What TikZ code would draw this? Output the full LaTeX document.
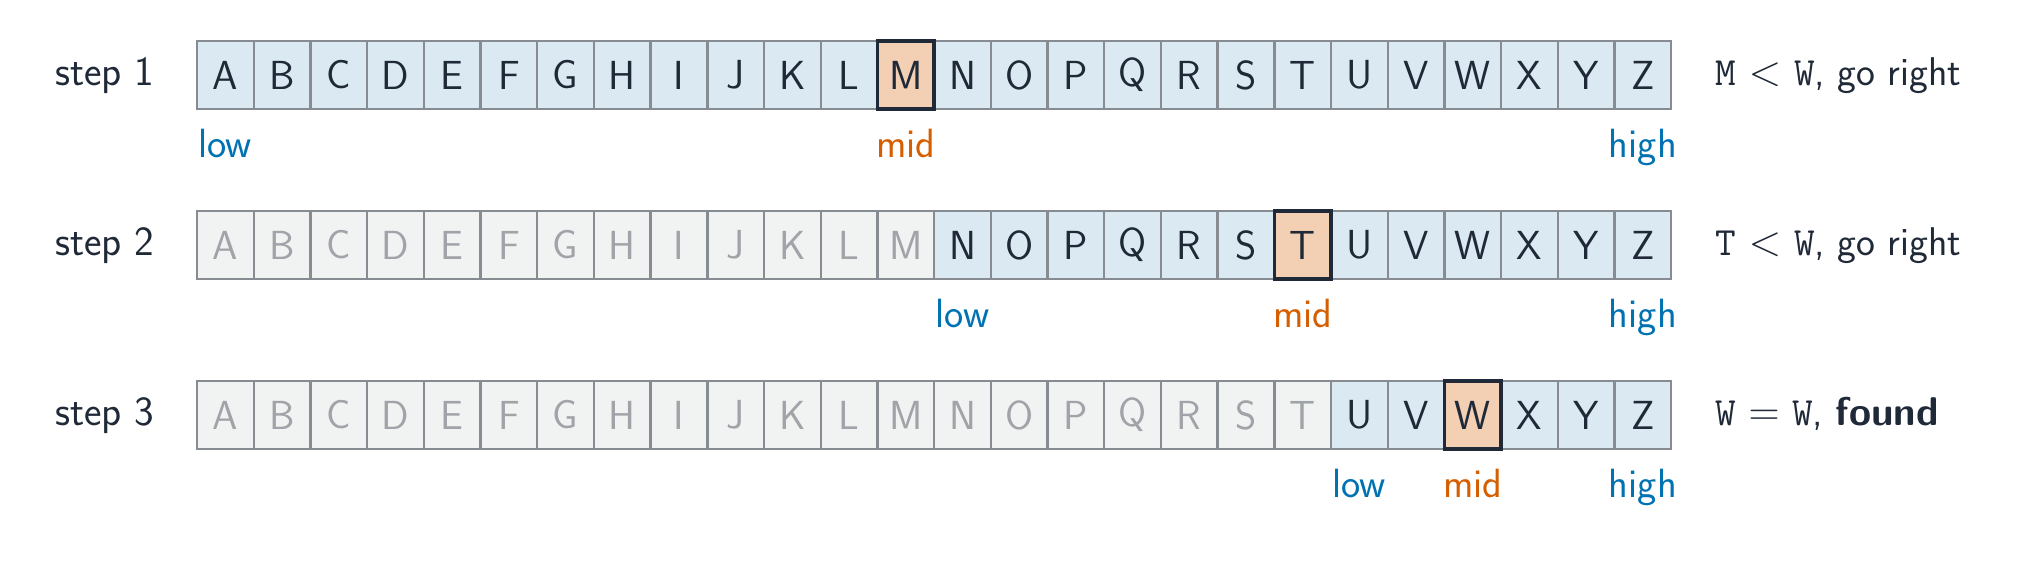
\documentclass[tikz,border=0pt]{standalone}
\usepackage{fontspec}
\definecolor{ink}{HTML}{1F2937}
\definecolor{cellfill}{HTML}{DBEAF2}
\definecolor{dimfill}{HTML}{F1F2F2}
\definecolor{dimtext}{HTML}{A0A4A8}
\definecolor{cellline}{HTML}{878C93}
\definecolor{midfill}{HTML}{F3D0B4}
\definecolor{lowblue}{HTML}{0072B2}
\definecolor{midorange}{HTML}{D55E00}
\tikzset{
  cellbox/.style={draw=cellline, line width=0.95pt, fill=cellfill, text=ink,
    minimum width=0.8cm, minimum height=0.96cm, inner sep=0pt,
    font=\sffamily\fontsize{16.3}{19}\selectfont},
  dimbox/.style={cellbox, fill=dimfill, text=dimtext},
  midbox/.style={cellbox, fill=midfill, draw=ink, line width=1.4pt},
  steplabel/.style={anchor=base east, text=ink, inner sep=0pt,
    font=\sffamily\fontsize{16.7}{19}\selectfont},
  ptrlabel/.style={anchor=base, inner sep=0pt,
    font=\sffamily\fontsize{16.4}{19}\selectfont},
  lowlab/.style={ptrlabel, text=lowblue},
  midlab/.style={ptrlabel, text=midorange},
  notelabel/.style={anchor=base west, text=ink, inner sep=0pt,
    font=\sffamily\fontsize{16.1}{19}\selectfont},
}
\begin{document}
\begin{tikzpicture}[x=0.0141111cm, y=-0.0141111cm]
\useasboundingbox (0,0) rectangle (2018,561);
% rows: y centres 75, 245, 415 ; first active index, mid index
\foreach \row/\yc/\lo/\mi in {1/75/0/12, 2/245/13/19, 3/415/20/22} {
  \node[steplabel] (step\row) at (155,\yc+10) {step \row};
  \foreach \L [count=\n from 0] in {A,B,C,D,E,F,G,H,I,J,K,L,M,N,O,P,Q,R,S,T,U,V,W,X,Y,Z} {
    \ifnum\n<\lo
      \node[dimbox] (c\row-\n) at (225.35+56.7*\n,\yc) {\L};
    \else
      \ifnum\n=\mi\else
        \node[cellbox] (c\row-\n) at (225.35+56.7*\n,\yc) {\L};
      \fi
    \fi
  }
  \node[midbox] (c\row-\mi) at (225.35+56.7*\mi,\yc) {\csname @Alph\endcsname{\numexpr\mi+1\relax}};
  \node[lowlab] (low\row) at (225.35+56.7*\lo,\yc+82) {low};
  \node[midlab] (mid\row) at (225.35+56.7*\mi,\yc+82) {mid};
  \node[lowlab] (high\row) at (225.35+56.7*25,\yc+82) {high};
}
\node[notelabel] (note1) at (1715,85) {\texttt{M} $<$ \texttt{W}, go right};
\node[notelabel] (note2) at (1715,255) {\texttt{T} $<$ \texttt{W}, go right};
\node[notelabel] (note3) at (1715,425) {\texttt{W} $=$ \texttt{W}, \textbf{found}};
\end{tikzpicture}
\end{document}
